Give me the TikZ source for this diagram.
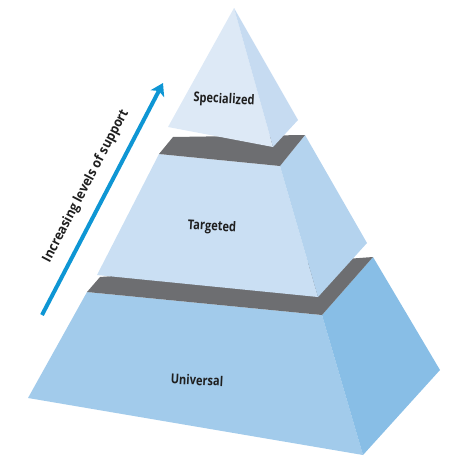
\documentclass[tikz,border=0pt]{standalone}
\usepackage{fontspec}
\newfontfamily\lblfont{Open Sans}[FakeStretch=0.82]
\newfontfamily\arrfont{Open Sans}[FakeStretch=0.92]
\usetikzlibrary{arrows.meta}
\definecolor{grayband}{HTML}{6D6E71}
\definecolor{topfront}{HTML}{DDE9F6}
\definecolor{topside}{HTML}{C6DBF1}
\definecolor{midfront}{HTML}{CADFF3}
\definecolor{midside}{HTML}{B4D3EE}
\definecolor{botfront}{HTML}{A2CBEB}
\definecolor{botside}{HTML}{88BEE6}
\definecolor{arrowblue}{HTML}{0E96D4}
\tikzset{
  tierlabel/.style={font=\lblfont\bfseries\fontsize{13.5}{15}\selectfont, text=black!88, inner sep=0pt, rotate=-3},
  arrowlabel/.style={font=\arrfont\bfseries\fontsize{13.5}{15}\selectfont, text=black!88, inner sep=0pt, rotate=62.4},
}
\begin{document}
\begin{tikzpicture}[x=1pt,y=-1pt]
\useasboundingbox (0,0) rectangle (452,474);

% bottom tier
\fill[botfront] (87,292) -- (322,315) -- (363,455) -- (28,398) -- cycle;
\fill[botside] (322,315) -- (373,257) -- (440,370) -- (363,455) -- cycle;
\fill[grayband] (87,292) -- (100,277) -- (373,257) -- (322,315) -- cycle;

% middle tier
\fill[midfront] (159,154) -- (280,166) -- (318,297) -- (97,275) -- cycle;
\fill[midside] (280,166) -- (305,135) -- (367,243) -- (318,297) -- cycle;
\fill[grayband] (159,154) -- (173,137) -- (305,135) -- (280,166) -- cycle;

% top pyramid
\fill[topfront] (234,8) -- (273,147) -- (168,127) -- cycle;
\fill[topside] (234,8) -- (298,120) -- (273,147) -- cycle;

% tier labels
\node[tierlabel] (spec) at (224,100) {Specialized};
\node[tierlabel] (targ) at (212,227) {Targeted};
\node[tierlabel] (univ) at (197,380) {Universal};

% direction arrow
\coordinate (arrS) at (42,315);
\coordinate (arrE) at (163,83);
\draw[arrowblue, line width=4pt, -{Stealth[length=12pt,width=15pt,inset=3pt]}] (arrS) -- (arrE);
\node[arrowlabel] (lbl) at (86,186) {Increasing levels of support};
\end{tikzpicture}
\end{document}
